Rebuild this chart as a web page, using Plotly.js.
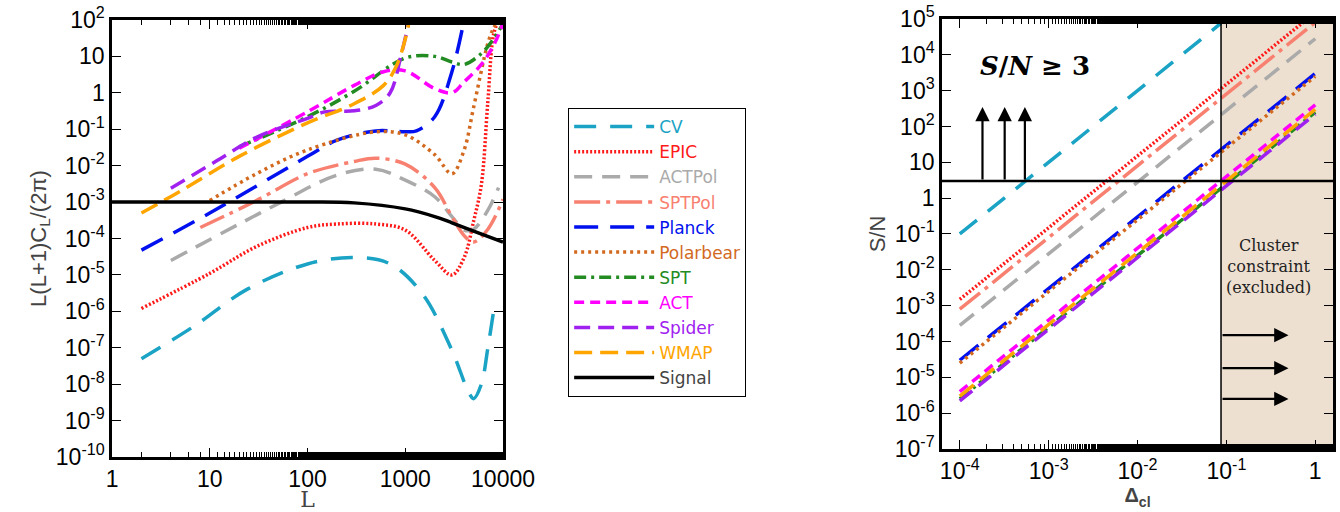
<!DOCTYPE html>
<html>
<head>
<meta charset="utf-8">
<script src="https://cdn.plot.ly/plotly-3.0.1.min.js"></script>
<style>body{margin:0;background:#fff}#chart{width:1340px;height:512px}</style>
</head>
<body>
<div id="chart"></div>
<script>
// --- DATA: left panel, L(L+1)C_L/(2pi) vs L ---
const signalL = [1, 10, 100, 300, 1000, 2000, 3000, 5000, 10000];
const signalY = [1e-3, 1e-3, 1e-3, 9.5e-4, 6.5e-4, 4e-4, 2.7e-4, 1.6e-4, 8e-5];

const cvL = [2, 7, 24, 100, 300, 700, 1500, 3000, 4500, 5000, 6000, 7000, 8000];
const cvY = [5e-8, 4e-7, 4e-6, 2e-5, 3e-5, 2e-5, 3e-6, 8.5e-8, 5.6e-9, 4e-9, 1e-8, 1e-7, 1e-6];

const epicL = [2, 10, 30, 100, 200, 500, 1000, 2000, 3000, 4000, 5000, 6000, 7000, 8000, 9000];
const epicY = [1.2e-6, 1.1e-5, 6e-5, 2e-4, 2.5e-4, 2.5e-4, 1.7e-4, 2.5e-5, 1e-5, 3e-5, 3e-4, 3e-3, 0.6, 40, 100];

const actpolL = [4, 20, 50, 200, 500, 1000, 2000, 3000, 4000, 5000, 7000, 9000];
const actpolY = [2.5e-5, 2.5e-4, 9e-4, 5.5e-3, 8e-3, 4e-3, 1.4e-3, 4e-4, 1.7e-4, 1.8e-4, 6e-4, 2.5e-3];

const sptpolL = [8, 30, 100, 300, 500, 1000, 2000, 3000, 4000, 5000, 7000, 10000];
const sptpolY = [2e-4, 1.1e-3, 6e-3, 1.3e-2, 1.6e-2, 1.1e-2, 2.5e-3, 4e-4, 1.2e-4, 8e-5, 1.8e-4, 1.2e-3];

const planckL = [2, 10, 100, 200, 500, 1000, 1300, 2000, 3000, 4000];
const planckY = [4.8e-5, 5e-4, 1.8e-2, 5e-2, 9e-2, 8.5e-2, 9e-2, 0.22, 3.8, 100];

const polarbearL = [10, 30, 100, 500, 1000, 2000, 3000, 4000, 5000, 7000, 8000, 9000];
const polarbearY = [1.1e-3, 6e-3, 2.7e-2, 8.5e-2, 7e-2, 2e-2, 6e-3, 2.7e-2, 0.4, 23, 60, 100];

const sptL = [20, 100, 300, 1000, 2000, 3000, 4000, 6000, 8000, 10000];
const sptY = [3.3e-2, 0.22, 1.1, 9, 10, 7, 6, 12, 30, 80];

const actL = [20, 100, 300, 600, 1000, 2000, 3000, 4000, 6000, 8000, 10000];
const actY = [3e-2, 0.3, 1.6, 3.8, 4, 1.3, 1, 2, 6, 20, 80];

const spiderL = [4, 12, 30, 100, 150, 300, 500, 700, 900, 1100];
const spiderY = [2.4e-3, 1.4e-2, 6e-2, 0.2, 0.3, 0.32, 0.45, 1, 10, 100];

const wmapL = [2, 5, 20, 100, 300, 600, 800, 1000, 1100];
const wmapY = [5e-4, 2e-3, 1.8e-2, 0.15, 0.5, 1.6, 5, 30, 100];

// --- DATA: right panel, S/N vs Delta_cl (values at 1e-4 and 1) ---
const deltaX = [1e-4, 1];
const snCV = [[1e-4, 0.087], [0.1, 7.6e4]];
const snEPIC = [1.5e-3, 1.5e5];
const snSPTPol = [8e-4, 8e4];
const snACTPol = [2.8e-4, 2.8e4];
const snPlanck = [3e-5, 3e3];
const snPolarbear = [2.5e-5, 2.5e3];
const snACT = [4e-6, 4e2];
const snWMAP = [3e-6, 3e2];
const snSPT = [2.5e-6, 2.5e2];
const snSpider = [2.2e-6, 2.2e2];
const snThreshold = 3;
const clusterLimit = 0.087;
const upArrowX = [1.8e-4, 3.2e-4, 5.4e-4];
const upArrowTop = 350;
const rightArrowY = [1.5e-4, 1.8e-5, 2.5e-6];
const rightArrowEnd = 0.5;

const W = 3.5;
const exps = [
  {name: 'CV', c: '#1aa3c4', d: '22px,14px', L: cvL, Y: cvY, sn: snCV[1], sx: snCV[0]},
  {name: 'EPIC', c: '#ff1a1a', d: '2px,2px', L: epicL, Y: epicY, sn: snEPIC},
  {name: 'ACTPol', c: '#aaaaaa', d: '18px,10px', L: actpolL, Y: actpolY, sn: snACTPol},
  {name: 'SPTPol', c: '#f88070', d: '26px,6px,4px,6px', L: sptpolL, Y: sptpolY, sn: snSPTPol},
  {name: 'Planck', c: '#0010ee', d: '24px,12px', L: planckL, Y: planckY, sn: snPlanck},
  {name: 'Polarbear', c: '#d2691e', d: '3px,4px', L: polarbearL, Y: polarbearY, sn: snPolarbear},
  {name: 'SPT', c: '#228b22', d: '12px,5px,3px,5px', L: sptL, Y: sptY, sn: snSPT},
  {name: 'ACT', c: '#ff00ff', d: '10px,6px', L: actL, Y: actY, sn: snACT},
  {name: 'Spider', c: '#a020f0', d: '16px,8px', L: spiderL, Y: spiderY, sn: snSpider},
  {name: 'WMAP', c: '#ffa500', d: '18px,8px', L: wmapL, Y: wmapY, sn: snWMAP}
];

const traces = [];
exps.forEach(e => {
  traces.push({
    x: e.L, y: e.Y, xaxis: 'x', yaxis: 'y', type: 'scatter', mode: 'lines',
    name: `<span style="color:${e.c}">${e.name}</span>`,
    line: {color: e.c, width: W, dash: e.d, shape: 'spline'}
  });
});
traces.push({
  x: signalL, y: signalY, xaxis: 'x', yaxis: 'y', type: 'scatter', mode: 'lines',
  name: 'Signal', line: {color: 'black', width: W, shape: 'spline'}
});
exps.forEach(e => {
  traces.push({
    x: e.sx || deltaX, y: e.sn, xaxis: 'x2', yaxis: 'y2', type: 'scatter', mode: 'lines',
    showlegend: false, line: {color: e.c, width: W, dash: e.d}
  });
});
traces.push({x: [1e-5, 10], y: [snThreshold, snThreshold], xaxis: 'x2', yaxis: 'y2', mode: 'lines',
  showlegend: false, line: {color: 'black', width: 2.5}});
traces.push({x: [clusterLimit, clusterLimit], y: [1e-8, 1e6], xaxis: 'x2', yaxis: 'y2', mode: 'lines',
  showlegend: false, line: {color: 'black', width: 1.5}});

const tickFont = {family: 'Liberation Sans, Arial, sans-serif', size: 23, color: 'black'};
function axisBase() {
  return {
    type: 'log', showgrid: false, zeroline: false, mirror: 'ticks', showline: true,
    linecolor: 'black', linewidth: 2.5, ticks: 'inside', ticklen: 9, tickwidth: 1.3,
    tickcolor: 'black', tickfont: tickFont,
    minor: {ticks: 'inside', ticklen: 5, tickcolor: 'black', showgrid: false}
  };
}
function pow(a, b) {
  return Array.from({length: b - a + 1}, (_, i) => a + i);
}
const lyExp = pow(-10, 2);
const ryExp = pow(-7, 5);
const rxExp = pow(-4, 0);
function lab(e) {
  if (e === 0) return '1';
  if (e === 1) return '10';
  return `10<sup>${e}</sup>`;
}

const xl = Object.assign(axisBase(), {domain: [0.0836, 0.3754], range: [0, 4], anchor: 'y',
  tickvals: [1, 10, 100, 1000, 10000], ticktext: ['1', '10', '100', '1000', '10000'],
  title: {text: 'L', font: {family: 'DejaVu Serif, serif', size: 22}, standoff: 6}});
const yl = Object.assign(axisBase(), {domain: [0.1074, 0.961], range: [-10, 2], anchor: 'x',
  tickvals: lyExp.map(e => Math.pow(10, e)), ticktext: lyExp.map(lab),
  title: {text: 'L(L+1)C<sub>L</sub>/(2π)', font: {family: 'Liberation Sans, sans-serif', size: 22}, standoff: 4}});
const xr = Object.assign(axisBase(), {domain: [0.703, 0.9948], range: [-4.2, 0.2], anchor: 'y2',
  tickvals: rxExp.map(e => Math.pow(10, e)), ticktext: rxExp.map(e => e === 0 ? '1' : `10<sup>${e}</sup>`),
  title: {text: '<b>Δ<sub>cl</sub></b>', font: {family: 'Liberation Sans, sans-serif', size: 20}, standoff: 2}});
const yr = Object.assign(axisBase(), {domain: [0.123, 0.963], range: [-7, 5], anchor: 'x2',
  tickvals: ryExp.map(e => Math.pow(10, e)), ticktext: ryExp.map(lab),
  title: {text: 'S/N', font: {family: 'Liberation Sans, sans-serif', size: 22}, standoff: 4}});

const annotations = [];
upArrowX.forEach(x => annotations.push({
  xref: 'x2', yref: 'y2', axref: 'x2', ayref: 'y2',
  x: Math.log10(x), y: Math.log10(upArrowTop), ax: Math.log10(x), ay: Math.log10(snThreshold),
  showarrow: true, arrowhead: 2, arrowsize: 1.3, arrowwidth: 2.2, arrowcolor: 'black', text: ''
}));
rightArrowY.forEach(y => annotations.push({
  xref: 'x2', yref: 'y2', axref: 'x2', ayref: 'y2',
  x: Math.log10(rightArrowEnd), y: Math.log10(y), ax: Math.log10(clusterLimit), ay: Math.log10(y),
  showarrow: true, arrowhead: 2, arrowsize: 1.3, arrowwidth: 2.2, arrowcolor: 'black', text: ''
}));
annotations.push({xref: 'x2', yref: 'y2', x: Math.log10(1.6e-4), y: Math.log10(5000), showarrow: false,
  xanchor: 'left', yanchor: 'middle',
  text: '<b><i>S</i>/<i>N</i> ≥ 3</b>', font: {family: 'DejaVu Serif, serif', size: 26, color: 'black'}});
annotations.push({xref: 'x2', yref: 'y2', x: Math.log10(0.3), y: Math.log10(0.012), showarrow: false,
  text: 'Cluster<br>constraint<br>(excluded)', font: {family: 'DejaVu Serif, serif', size: 16, color: '#222'}});

const layout = {
  width: 1340, height: 512, margin: {l: 0, r: 0, t: 0, b: 0},
  paper_bgcolor: 'white', plot_bgcolor: 'rgba(0,0,0,0)',
  xaxis: xl, yaxis: yl, xaxis2: xr, yaxis2: yr,
  showlegend: true,
  legend: {x: 0.424, y: 0.789, xanchor: 'left', yanchor: 'top', bordercolor: 'black', borderwidth: 1,
    itemwidth: 80, tracegroupgap: 0, font: {family: 'DejaVu Sans, sans-serif', size: 17},
    bgcolor: 'white'},
  shapes: [{type: 'rect', xref: 'x2 domain', yref: 'y2 domain',
    x0: (Math.log10(clusterLimit) + 4.2) / 4.4, x1: 1, y0: 0, y1: 1,
    fillcolor: '#eee0d0', line: {width: 0}, layer: 'below'}],
  annotations: annotations
};

Plotly.newPlot('chart', traces, layout, {displayModeBar: false});
</script>
</body>
</html>
